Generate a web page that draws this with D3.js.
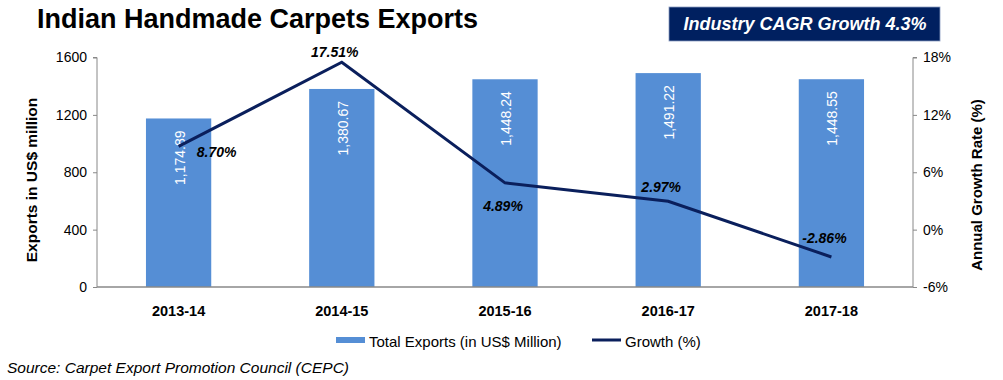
<!DOCTYPE html>
<html>
<head>
<meta charset="utf-8">
<script src="https://cdn.jsdelivr.net/npm/d3@7"></script>
<style>
  body { margin: 0; background: #fff; }
  text { font-family: "Liberation Sans", Arial, sans-serif; }
</style>
</head>
<body>
<div id="chart"></div>
<script>
var years = ["2013-14", "2014-15", "2015-16", "2016-17", "2017-18"];
var exportsUsd = [1174.89, 1380.67, 1448.24, 1491.22, 1448.55];
var growth = [8.70, 17.51, 4.89, 2.97, -2.86];
var leftTicks = [0, 400, 800, 1200, 1600];
var rightTicks = [-6, 0, 6, 12, 18];

function drawChart() {
    var width = 1003, height = 380;
    var plotLeft = 97, plotRight = 913, plotTop = 57.5, plotBottom = 287;

    var svg = d3.select("#chart").append("svg")
        .attr("width", width)
        .attr("height", height);

    var x = d3.scaleBand().domain(years).range([plotLeft, plotRight]).paddingInner(0.6).paddingOuter(0.3);
    var y = d3.scaleLinear().domain([0, 1600]).range([plotBottom, plotTop]);
    var y2 = d3.scaleLinear().domain([-6, 18]).range([plotBottom, plotTop]);

    // title
    svg.append("text")
        .attr("x", 37).attr("y", 28)
        .attr("font-size", 27).attr("font-weight", "bold")
        .text("Indian Handmade Carpets Exports");

    // CAGR box
    svg.append("rect")
        .attr("x", 669).attr("y", 7).attr("width", 271).attr("height", 34)
        .attr("fill", "#002060").attr("stroke", "#8a9cc0").attr("stroke-width", 0.8);
    svg.append("text")
        .attr("x", 805).attr("y", 30)
        .attr("text-anchor", "middle")
        .attr("font-size", 18).attr("font-weight", "bold").attr("font-style", "italic")
        .attr("fill", "#fff")
        .text("Industry CAGR Growth  4.3%");

    // bars
    svg.selectAll(".bar").data(years).enter().append("rect")
        .attr("class", "bar")
        .attr("x", function(d) { return x(d); })
        .attr("y", function(d, i) { return y(exportsUsd[i]); })
        .attr("width", x.bandwidth())
        .attr("height", function(d, i) { return plotBottom - y(exportsUsd[i]); })
        .attr("fill", "#558ED5");

    // bar labels
    svg.selectAll(".barlab").data(years).enter().append("text")
        .attr("class", "barlab")
        .attr("transform", function(d, i) {
            return "translate(" + (x(d) + x.bandwidth() / 2 + 6) + "," + (y(exportsUsd[i]) + 12) + ") rotate(-90)";
        })
        .attr("text-anchor", "end")
        .attr("font-size", 14).attr("fill", "#fff")
        .text(function(d, i) { return d3.format(",.2f")(exportsUsd[i]); });

    // axes
    var axisL = svg.append("g").attr("transform", "translate(" + plotLeft + ",0)")
        .call(d3.axisLeft(y).tickValues(leftTicks).tickSize(4).tickPadding(6)
            .tickFormat(function(d) { return String(d); }));
    var axisR = svg.append("g").attr("transform", "translate(" + plotRight + ",0)")
        .call(d3.axisRight(y2).tickValues(rightTicks).tickSize(4).tickPadding(6)
            .tickFormat(function(d) { return String(d) + "%"; }));
    axisL.select(".domain").attr("d", "M-4," + plotTop + "H0V" + plotBottom);
    axisR.select(".domain").attr("d", "M4," + plotTop + "H0V" + plotBottom);
    [axisL, axisR].forEach(function(a) {
        a.selectAll("path, line").attr("stroke", "#888");
        a.selectAll("text").attr("font-size", 14).attr("fill", "#000")
            .attr("font-family", "Liberation Sans, Arial, sans-serif");
    });

    // baseline
    svg.append("line")
        .attr("x1", plotLeft).attr("x2", plotRight).attr("y1", plotBottom).attr("y2", plotBottom)
        .attr("stroke", "#888").attr("stroke-width", 1.5);

    // x labels
    svg.selectAll(".xlab").data(years).enter().append("text")
        .attr("class", "xlab")
        .attr("x", function(d) { return x(d) + x.bandwidth() / 2; })
        .attr("y", 316)
        .attr("text-anchor", "middle")
        .attr("font-size", 14.5).attr("font-weight", "bold")
        .text(function(d) { return d; });

    // axis titles
    svg.append("text")
        .attr("transform", "translate(37,180) rotate(-90)")
        .attr("text-anchor", "middle")
        .attr("font-size", 15.5).attr("font-weight", "bold")
        .text("Exports in US$ million");
    svg.append("text")
        .attr("transform", "translate(982,185) rotate(-90)")
        .attr("text-anchor", "middle")
        .attr("font-size", 15).attr("font-weight", "bold")
        .text("Annual Growth Rate  (%)");

    // growth line
    var line = d3.line()
        .x(function(d, i) { return x(years[i]) + x.bandwidth() / 2; })
        .y(function(d) { return y2(d); });
    svg.append("path")
        .datum(growth)
        .attr("d", line)
        .attr("fill", "none")
        .attr("stroke", "#0a1f5c")
        .attr("stroke-width", 3);

    // growth labels
    var labOff = [[38, 11], [-7, -5], [-2, 28], [-7, -9], [-7, -14]];
    svg.selectAll(".glab").data(growth).enter().append("text")
        .attr("class", "glab")
        .attr("x", function(d, i) { return x(years[i]) + x.bandwidth() / 2 + labOff[i][0]; })
        .attr("y", function(d, i) { return y2(d) + labOff[i][1]; })
        .attr("text-anchor", "middle")
        .attr("font-size", 14).attr("font-weight", "bold").attr("font-style", "italic")
        .text(function(d) { return d.toFixed(2) + "%"; });

    // legend
    svg.append("rect")
        .attr("x", 336).attr("y", 337).attr("width", 29).attr("height", 6)
        .attr("fill", "#558ED5");
    svg.append("text")
        .attr("x", 369).attr("y", 347).attr("font-size", 15)
        .text("Total Exports (in US$ Million)");
    svg.append("line")
        .attr("x1", 592).attr("x2", 621).attr("y1", 340).attr("y2", 340)
        .attr("stroke", "#0a1f5c").attr("stroke-width", 3);
    svg.append("text")
        .attr("x", 625).attr("y", 347).attr("font-size", 15)
        .text("Growth (%)");

    // source
    svg.append("text")
        .attr("x", 7).attr("y", 373)
        .attr("font-size", 15.5).attr("font-style", "italic")
        .text("Source: Carpet Export Promotion Council (CEPC)");
}

drawChart();
</script>
</body>
</html>
